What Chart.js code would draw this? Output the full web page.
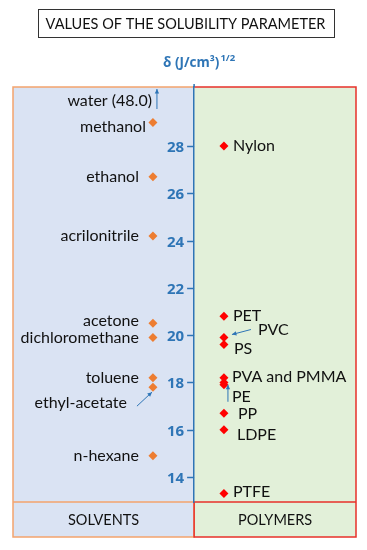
<!DOCTYPE html>
<html lang="en">
<head>
<meta charset="UTF-8">
<title>Values of the solubility parameter</title>
<script src="https://cdn.jsdelivr.net/npm/chart.js"></script>
<style>
  html, body { margin: 0; padding: 0; background: #fff; }
</style>
</head>
<body>
<canvas id="chart" width="367" height="550"></canvas>
<script>
// solubility parameter delta, (J/cm3)^1/2
const solvents = ['methanol', 'ethanol', 'acrilonitrile', 'acetone', 'dichloromethane', 'toluene', 'ethyl-acetate', 'n-hexane'];
const solventDelta = [29.0, 26.7, 24.2, 20.5, 19.9, 18.2, 17.8, 14.9];
const polymers = ['Nylon', 'PET', 'PVC', 'PS', 'PVA', 'PMMA', 'PE', 'PP', 'LDPE', 'PTFE'];
const polymerDelta = [28.0, 20.8, 19.9, 19.6, 18.2, 18.0, 17.9, 16.7, 16.0, 13.3];
const waterDelta = 48.0; // off the scale, shown with an arrow
const yTicks = [14, 16, 18, 20, 22, 24, 26, 28];
const groups = ['SOLVENTS', 'POLYMERS'];

const FONT = 'Lato, "Open Sans", sans-serif';
const BOLD_FONT = '"Open Sans", sans-serif';
const BLUE = '#2e75b6';
const TEXT = '#111';

// x is only a layout axis: 0..10, y axis drawn in the middle
const AXIS_X = 5.28, SOLVENT_X = 4.08, POLYMER_X = 6.15;

// label offsets from the marker [dx, dy], text override
const labelOpts = {
  methanol: [-7, 4], ethanol: [-14, 0], acrilonitrile: [-14, 0], acetone: [-14, -2],
  dichloromethane: [-14, 0], toluene: [-14, 0], 'ethyl-acetate': [-26, 16], 'n-hexane': [-14, 0],
  Nylon: [9, 0], PET: [9, 0], PVC: [34, -8], PS: [10, 4], PVA: [8, -1, 'PVA and PMMA'],
  PMMA: null, PE: [8, 12], PP: [14, 1], LDPE: [13, 5], PTFE: [9, -2]
};
// arrows from label to marker, offsets from the marker [x1, y1, x2, y2]
const arrowOpts = {
  'ethyl-acetate': [-16, 19, -1, 5],
  PVC: [27, -8, 8, -3],
  PE: [4, 17, 4, 0]
};

function arrow(ctx, x1, y1, x2, y2) {
  ctx.save();
  ctx.strokeStyle = BLUE; ctx.fillStyle = BLUE; ctx.lineWidth = 1;
  ctx.beginPath(); ctx.moveTo(x1, y1); ctx.lineTo(x2, y2); ctx.stroke();
  const a = Math.atan2(y2 - y1, x2 - x1), h = 5;
  ctx.beginPath();
  ctx.moveTo(x2, y2);
  ctx.lineTo(x2 - h * Math.cos(a - 0.45), y2 - h * Math.sin(a - 0.45));
  ctx.lineTo(x2 - h * Math.cos(a + 0.45), y2 - h * Math.sin(a + 0.45));
  ctx.closePath(); ctx.fill();
  ctx.restore();
}

function poly(ctx, pts) {
  ctx.beginPath();
  ctx.moveTo(pts[0][0], pts[0][1]);
  pts.slice(1).forEach(p => ctx.lineTo(p[0], p[1]));
  ctx.stroke();
}

const panels = {
  id: 'panels',
  beforeDraw(chart) {
    const ctx = chart.ctx;
    const {left, right, top, bottom} = chart.chartArea;
    const mid = chart.scales.x.getPixelForValue(AXIS_X);
    const footH = 35;
    ctx.save();
    ctx.fillStyle = '#dae3f3';
    ctx.fillRect(left, top, mid - left, bottom + footH - top);
    ctx.fillStyle = '#e2f0d9';
    ctx.fillRect(mid, top, right - mid, bottom + footH - top);
    ctx.lineWidth = 1.5;
    ctx.strokeStyle = '#f4a46e';
    poly(ctx, [[mid, top], [left, top], [left, bottom + footH], [mid, bottom + footH], [mid, bottom], [left, bottom]]);
    ctx.strokeStyle = '#e8302a';
    poly(ctx, [[mid, top], [right, top], [right, bottom + footH], [mid, bottom + footH], [mid, bottom], [right, bottom]]);

    // group names in the footer
    ctx.fillStyle = TEXT;
    ctx.font = '14.5px ' + FONT;
    ctx.textAlign = 'center';
    ctx.textBaseline = 'middle';
    ctx.fillText(groups[0], (left + mid) / 2, bottom + footH / 2 + 1);
    ctx.fillText(groups[1], (mid + right) / 2, bottom + footH / 2 + 1);

    // boxed title
    const title = 'VALUES OF THE SOLUBILITY PARAMETER';
    const cx = (left + right) / 2 + 1;
    const tw = ctx.measureText(title).width;
    ctx.fillText(title, cx, 24);
    ctx.strokeStyle = '#333';
    ctx.lineWidth = 1;
    ctx.strokeRect(Math.round(cx - tw / 2 - 8) + 0.5, 9.5, Math.round(tw + 16), 28);

    // axis title with superscript
    ctx.fillStyle = BLUE;
    const main = 'δ (J/cm³)';
    ctx.font = 'bold 9.5px ' + BOLD_FONT;
    const supW = ctx.measureText('1/2').width;
    ctx.font = 'bold 13.5px ' + BOLD_FONT;
    const mainW = ctx.measureText(main).width;
    const x0 = mid + 5 - (mainW + supW + 1) / 2;
    ctx.textAlign = 'left';
    ctx.fillText(main, x0, 63);
    ctx.font = 'bold 9.5px ' + BOLD_FONT;
    ctx.fillText('1/2', x0 + mainW + 1, 58);
    // axis line pokes a little above the panels
    ctx.strokeStyle = BLUE;
    ctx.lineWidth = 1.5;
    poly(ctx, [[mid, top - 3], [mid, top]]);
    ctx.restore();
  }
};

const labels = {
  id: 'labels',
  afterDatasetsDraw(chart) {
    const ctx = chart.ctx;
    ctx.save();
    // tick marks and labels of the centred y axis
    const ys = chart.scales.y;
    const mid = chart.scales.x.getPixelForValue(AXIS_X);
    ctx.strokeStyle = BLUE;
    ctx.lineWidth = 1.5;
    ctx.fillStyle = BLUE;
    ctx.font = 'bold 15px ' + BOLD_FONT;
    ctx.textAlign = 'right';
    ctx.textBaseline = 'middle';
    ys.ticks.forEach(t => {
      const py = Math.round(ys.getPixelForValue(t.value)) + 0.5;
      poly(ctx, [[mid - 7, py], [mid, py]]);
      ctx.fillText(String(t.value), mid - 10, py + 1);
    });

    ctx.font = '16px ' + FONT;
    ctx.fillStyle = TEXT;
    [solvents, polymers].forEach((names, d) => {
      const meta = chart.getDatasetMeta(d);
      ctx.textAlign = d === 0 ? 'right' : 'left';
      names.forEach((n, i) => {
        const pt = meta.data[i];
        const o = labelOpts[n];
        if (o) ctx.fillText(o[2] || n, pt.x + o[0], pt.y + o[1]);
        const a = arrowOpts[n];
        if (a) arrow(ctx, pt.x + a[0], pt.y + a[1], pt.x + a[2], pt.y + a[3]);
      });
    });
    // water sits far above the scale
    const top = chart.chartArea.top;
    const wx = chart.scales.x.getPixelForValue(SOLVENT_X) + 4;
    arrow(ctx, wx, top + 22, wx, top + 2);
    ctx.textAlign = 'right';
    ctx.fillText('water (' + waterDelta.toFixed(1) + ')', wx - 5, top + 14);
    ctx.restore();
  }
};

new Chart(document.getElementById('chart'), {
  type: 'scatter',
  data: {
    datasets: [
      {
        label: 'Solvents',
        data: solventDelta.map(v => ({x: SOLVENT_X, y: v})),
        pointStyle: 'rectRot', pointRadius: 4.5,
        backgroundColor: '#ed7d31', borderColor: '#ed7d31', borderWidth: 0
      },
      {
        label: 'Polymers',
        data: polymerDelta.map(v => ({x: POLYMER_X, y: v})),
        pointStyle: 'rectRot', pointRadius: 4.5,
        backgroundColor: '#ff0000', borderColor: '#ff0000', borderWidth: 0
      }
    ]
  },
  options: {
    responsive: false,
    animation: false,
    layout: { padding: { top: 87, bottom: 48, left: 13, right: 11 } },
    plugins: { legend: { display: false }, tooltip: { enabled: false } },
    scales: {
      x: { type: 'linear', min: 0, max: 10, display: false },
      y: {
        type: 'linear', min: 12.94, max: 30.5,
        position: { x: AXIS_X },
        afterBuildTicks: s => { s.ticks = yTicks.map(v => ({value: v})); },
        ticks: { display: false },
        grid: { display: false },
        border: { color: BLUE, width: 1.5 }
      }
    }
  },
  plugins: [panels, labels]
});
</script>
</body>
</html>
